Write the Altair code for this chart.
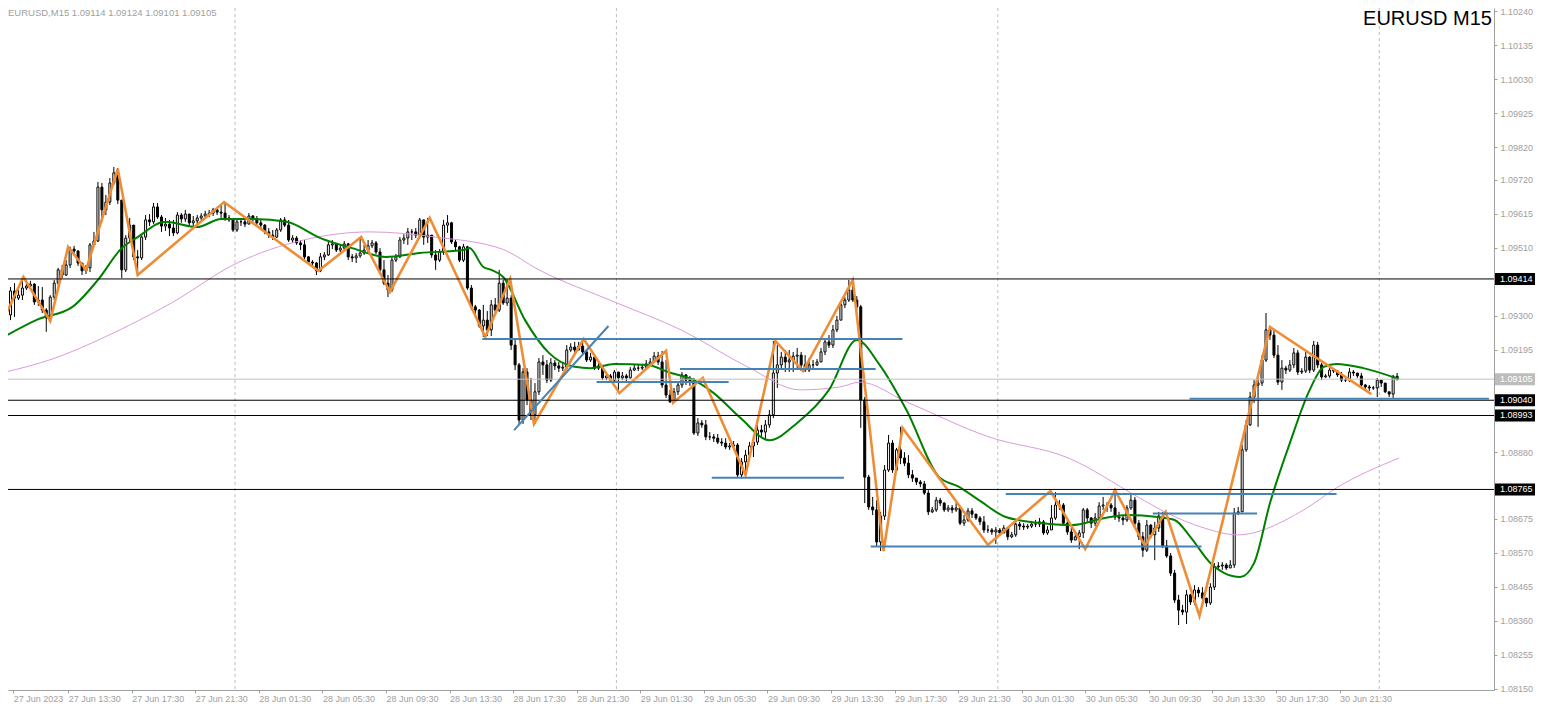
import json
import altair as alt
import pandas as pd

# ---------------- data (prices in 1e-5 units) ----------------
first_open = 109257

closes = [
    109303, 109377, 109355, 109364, 109386, 109392, 109398, 109343, 109349, 109318,
    109294, 109358, 109401, 109442, 109426, 109457, 109506, 109500, 109463, 109439,
    109448, 109519, 109531, 109697, 109627, 109651, 109710, 109741, 109657, 109442,
    109540, 109580, 109482, 109479, 109543, 109596, 109590, 109636, 109605, 109577,
    109583, 109571, 109556, 109611, 109599, 109614, 109587, 109593, 109602, 109608,
    109614, 109617, 109627, 109620, 109617, 109602, 109596, 109565, 109590, 109590,
    109583, 109608, 109599, 109587, 109580, 109559, 109549, 109543, 109565, 109596,
    109580, 109534, 109540, 109525, 109519, 109482, 109466, 109463, 109439, 109482,
    109488, 109519, 109522, 109503, 109509, 109522, 109482, 109479, 109485, 109494,
    109503, 109516, 109525, 109497, 109442, 109401, 109380, 109472, 109482, 109534,
    109540, 109559, 109559, 109549, 109596, 109543, 109549, 109488, 109472, 109497,
    109580, 109587, 109528, 109513, 109472, 109513, 109386, 109328, 109318, 109269,
    109287, 109257, 109334, 109318, 109401, 109340, 109355, 109210, 109149, 108979,
    109127, 109041, 108995, 109066, 109158, 109149, 109102, 109155, 109146, 109139,
    109142, 109195, 109204, 109195, 109207, 109189, 109164, 109173, 109139, 109146,
    109109, 109115, 109102, 109127, 109109, 109115, 109109, 109133, 109139, 109139,
    109142, 109152, 109158, 109176, 109158, 109087, 109056, 109035, 109066, 109087,
    109118, 109102, 109096, 108939, 108970, 108964, 108927, 108927, 108923, 108911,
    108908, 108896, 108899, 108902, 108810, 108850, 108871, 108899, 108911, 108948,
    108942, 108964, 108995, 109124, 109149, 109173, 109158, 109164, 109176, 109179,
    109149, 109133, 109149, 109149, 109158, 109189, 109220, 109210, 109257, 109287,
    109334, 109349, 109380, 109349, 109328, 109041, 108803, 108711, 108702, 108603,
    108683, 108825, 108908, 108825, 108887, 108862, 108846, 108810, 108800, 108788,
    108782, 108754, 108696, 108702, 108732, 108723, 108702, 108708, 108702, 108708,
    108661, 108671, 108699, 108689, 108677, 108665, 108640, 108640, 108634, 108640,
    108631, 108646, 108619, 108625, 108658, 108652, 108649, 108652, 108658, 108658,
    108665, 108631, 108640, 108677, 108717, 108717, 108661, 108634, 108609, 108619,
    108631, 108702, 108677, 108661, 108677, 108714, 108717, 108717, 108708, 108680,
    108677, 108671, 108708, 108732, 108661, 108619, 108578, 108655, 108625, 108646,
    108683, 108591, 108560, 108507, 108424, 108393, 108387, 108440, 108418, 108455,
    108446, 108430, 108415, 108464, 108526, 108529, 108532, 108523, 108532, 108692,
    108696, 108887, 108964, 109050, 109087, 109093, 109164, 109257, 109241, 109179,
    109096, 109139, 109133, 109149, 109186, 109127, 109130, 109173, 109133, 109210,
    109149, 109112, 109115, 109133, 109130, 109118, 109102, 109102, 109127, 109124,
    109115, 109087, 109081, 109078, 109078, 109102, 109093, 109066, 109059, 109114,
    109105,
]

highs = [
    109312, 109389, 109401, 109380, 109420, 109411, 109408, 109401, 109392, 109389,
    109324, 109364, 109411, 109448, 109457, 109472, 109513, 109516, 109503, 109463,
    109457, 109525, 109559, 109713, 109710, 109673, 109725, 109759, 109756, 109657,
    109549, 109602, 109580, 109503, 109549, 109611, 109614, 109648, 109648, 109611,
    109602, 109596, 109596, 109620, 109617, 109627, 109614, 109608, 109611, 109617,
    109624, 109627, 109633, 109630, 109642, 109648, 109611, 109602, 109602, 109599,
    109596, 109617, 109611, 109608, 109596, 109583, 109571, 109565, 109571, 109602,
    109605, 109596, 109549, 109546, 109534, 109534, 109485, 109472, 109466, 109494,
    109497, 109528, 109534, 109525, 109519, 109531, 109525, 109491, 109494, 109543,
    109519, 109534, 109534, 109531, 109509, 109472, 109426, 109482, 109491, 109543,
    109552, 109571, 109568, 109571, 109602, 109596, 109602, 109549, 109503, 109506,
    109596, 109611, 109590, 109534, 109516, 109522, 109516, 109395, 109334, 109321,
    109334, 109315, 109349, 109355, 109442, 109411, 109414, 109364, 109226, 109155,
    109139, 109139, 109109, 109093, 109170, 109179, 109164, 109170, 109164, 109158,
    109155, 109210, 109216, 109220, 109220, 109229, 109195, 109186, 109176, 109155,
    109149, 109127, 109121, 109133, 109127, 109127, 109121, 109142, 109149, 109149,
    109152, 109164, 109170, 109189, 109189, 109192, 109164, 109072, 109078, 109096,
    109127, 109121, 109115, 109109, 108985, 108979, 108979, 108942, 108936, 108936,
    108923, 108923, 108908, 108914, 108908, 108862, 108887, 108911, 108933, 108964,
    108964, 108979, 109010, 109223, 109210, 109189, 109195, 109195, 109189, 109201,
    109189, 109179, 109170, 109164, 109167, 109201, 109232, 109241, 109272, 109300,
    109343, 109358, 109411, 109411, 109361, 109334, 109050, 108810, 108742, 108732,
    108696, 108840, 108933, 108917, 108893, 108958, 108880, 108871, 108825, 108800,
    108794, 108791, 108763, 108711, 108742, 108739, 108726, 108717, 108717, 108723,
    108711, 108686, 108708, 108708, 108689, 108683, 108683, 108655, 108646, 108649,
    108646, 108655, 108649, 108634, 108671, 108665, 108661, 108658, 108668, 108671,
    108677, 108671, 108652, 108717, 108757, 108732, 108723, 108671, 108646, 108631,
    108640, 108708, 108708, 108680, 108692, 108726, 108742, 108726, 108723, 108763,
    108696, 108686, 108717, 108748, 108742, 108671, 108634, 108671, 108658, 108665,
    108696, 108696, 108609, 108569, 108517, 108440, 108409, 108455, 108443, 108470,
    108464, 108464, 108430, 108476, 108538, 108541, 108541, 108538, 108547, 108708,
    108711, 108902, 108979, 109066, 109102, 109109, 109179, 109309, 109266, 109257,
    109210, 109164, 109146, 109164, 109201, 109195, 109139, 109189, 109176, 109223,
    109220, 109155, 109121, 109146, 109139, 109133, 109127, 109112, 109139, 109133,
    109124, 109124, 109090, 109087, 109084, 109109, 109102, 109093, 109066, 109118,
    109124,
]

lows = [
    109248, 109287, 109297, 109349, 109349, 109380, 109383, 109334, 109331, 109309,
    109251, 109281, 109349, 109395, 109417, 109423, 109448, 109491, 109454, 109426,
    109429, 109435, 109516, 109528, 109590, 109611, 109642, 109704, 109645, 109417,
    109435, 109528, 109472, 109426, 109472, 109534, 109577, 109583, 109599, 109559,
    109562, 109546, 109546, 109552, 109587, 109590, 109577, 109577, 109583, 109593,
    109602, 109605, 109608, 109611, 109602, 109593, 109590, 109559, 109559, 109577,
    109574, 109583, 109590, 109580, 109571, 109552, 109540, 109534, 109540, 109559,
    109574, 109528, 109525, 109519, 109503, 109475, 109460, 109454, 109426, 109435,
    109472, 109485, 109506, 109497, 109497, 109503, 109472, 109466, 109463, 109479,
    109488, 109494, 109509, 109491, 109435, 109395, 109358, 109374, 109466, 109479,
    109522, 109519, 109534, 109540, 109546, 109519, 109525, 109479, 109442, 109466,
    109488, 109556, 109522, 109503, 109466, 109466, 109380, 109318, 109306, 109263,
    109235, 109238, 109238, 109303, 109312, 109334, 109331, 109195, 109133, 108964,
    108967, 109025, 108979, 108967, 109056, 109118, 109093, 109096, 109133, 109127,
    109130, 109133, 109189, 109186, 109195, 109179, 109158, 109158, 109133, 109133,
    109102, 109102, 109093, 109099, 109062, 109102, 109099, 109106, 109130, 109130,
    109133, 109139, 109146, 109155, 109149, 109078, 109047, 109032, 109032, 109056,
    109078, 109087, 109084, 108933, 108930, 108955, 108917, 108917, 108911, 108905,
    108899, 108889, 108887, 108889, 108803, 108800, 108800, 108856, 108865, 108902,
    108927, 108917, 108955, 108985, 109078, 109139, 109127, 109127, 109127, 109139,
    109130, 109127, 109127, 109139, 109146, 109158, 109179, 109201, 109201, 109250,
    109287, 109324, 109343, 109343, 109318, 108955, 108723, 108702, 108686, 108588,
    108575, 108671, 108819, 108816, 108819, 108843, 108837, 108800, 108788, 108779,
    108772, 108748, 108686, 108692, 108696, 108714, 108696, 108696, 108692, 108696,
    108655, 108652, 108665, 108677, 108671, 108655, 108631, 108631, 108625, 108597,
    108622, 108631, 108609, 108615, 108619, 108640, 108640, 108643, 108646, 108649,
    108649, 108625, 108625, 108640, 108671, 108702, 108655, 108625, 108600, 108609,
    108581, 108615, 108665, 108646, 108652, 108671, 108702, 108696, 108696, 108671,
    108665, 108655, 108665, 108702, 108652, 108609, 108557, 108572, 108615, 108547,
    108634, 108584, 108554, 108498, 108415, 108347, 108378, 108350, 108409, 108409,
    108433, 108424, 108403, 108409, 108455, 108517, 108517, 108517, 108523, 108523,
    108686, 108696, 108881, 108961, 109032, 108958, 109084, 109158, 109226, 109170,
    109087, 109072, 109121, 109127, 109139, 109118, 109121, 109124, 109124, 109127,
    109139, 109102, 109109, 109109, 109124, 109112, 109096, 109096, 109096, 109115,
    109109, 109081, 109075, 109069, 109072, 109050, 109081, 109062, 109050, 109047,
    109101,
]

# ZigZag indicator vertices
zz_bar = [-0.25, 4.25, 11, 15.5, 20, 28, 33, 54.75, 78.5, 89.25, 96.5, 106.5, 120.5,
          126.75, 132.75, 145.25, 154.25, 166, 167.75, 175.25, 186, 193.5, 200.5, 213,
          220.75, 225.5, 247, 262.75, 271.5, 279, 286.5, 291.75, 300.25, 318, 343.5]
zz_price = [109303, 109420, 109284, 109513, 109442, 109753, 109426, 109651, 109439, 109543,
            109374, 109602, 109235, 109414, 108967, 109229, 109062, 109192, 109032, 109109,
            108810, 109223, 109130, 109411, 108575, 108955, 108594, 108760, 108581, 108763,
            108591, 108696, 108375, 109266, 109059]

# fast moving average (green)
ma_fast_bar = [-0.25, 8, 16.5, 23, 29, 33, 40, 48, 54, 62, 70.5, 79, 87, 95.5, 104, 115,
               116.5, 120, 122, 125, 130.5, 136.5, 143, 147, 153, 161.5, 166.5, 173, 178,
               184.75, 192, 199, 207, 214, 219.75, 226.5, 234.75, 239.75, 244.75, 251.5,
               259.75, 268, 276.5, 282, 289.75, 294, 298, 303, 306.5, 310.5, 314, 318,
               323, 328, 331.5, 334.75, 341.5, 350.5]
ma_fast_price = [109238, 109290, 109327, 109411, 109509, 109543, 109590, 109574, 109599,
                 109599, 109590, 109540, 109509, 109482, 109494, 109503, 109509, 109451,
                 109442, 109420, 109287, 109186, 109143, 109139, 109152, 109149, 109127,
                 109102, 109062, 108985, 108917, 108970, 109072, 109226, 109149, 109010,
                 108803, 108773, 108732, 108680, 108662, 108655, 108677, 108686, 108680,
                 108671, 108618, 108538, 108507, 108495, 108538, 108723, 108908, 109072,
                 109143, 109152, 109139, 109105]

# slow moving average (violet)
ma_slow_bar = [-0.25, 11.5, 24.75, 41.5, 58, 74.75, 91.5, 108, 124.75, 134, 153, 169.75,
               186.5, 199.75, 209.75, 214.75, 226.5, 247.25, 267.25, 284.75, 291.5, 301.5,
               309.75, 326.5, 334.75, 350.5]
ma_slow_price = [109127, 109167, 109235, 109340, 109463, 109534, 109559, 109543, 109506,
                 109442, 109343, 109257, 109143, 109072, 109081, 109096, 109035, 108927,
                 108862, 108742, 108696, 108646, 108625, 108702, 108770, 108862]

# blue drawn lines: start bar, end bar, start price, end price
seg_x1 = [119.75, 169.5, 148.5, 177.5, 127.75, 217.5, 251.5, 288.5, 297.75]
seg_x2 = [225.5, 218.75, 181.75, 210.75, 151.5, 300.75, 334.75, 314.75, 373.1]
seg_p1 = [109229, 109136, 109096, 108801, 108948, 108589, 108751, 108691, 109045]
seg_p2 = [109229, 109136, 109096, 108801, 109269, 108589, 108751, 108691, 109045]

# horizontal price levels
level_prices = [109414, 109040, 108993, 108765]
bid_price = 109105

# day separators (bar positions)
separator_bars = [57.5, 153.5, 249.5, 345.5]

# axis ticks (those hidden under the level boxes are left out)
price_ticks = [1.10240, 1.10135, 1.10030, 1.09925, 1.09820, 1.09720, 1.09615, 1.09510,
               1.09300, 1.09195, 1.08880, 1.08675, 1.08570, 1.08465, 1.08360, 1.08255,
               1.08150]
time_tick_bars = [1.7, 15.5, 31.5, 47.5, 63.5, 79.5, 95.5, 111.5, 127.5, 143.5, 159.5,
                  175.5, 191.5, 207.5, 223.5, 239.5, 255.5, 271.5, 287.5, 303.5, 319.5,
                  335.5]
time_labels = ["27 Jun 2023", "27 Jun 13:30", "27 Jun 17:30", "27 Jun 21:30",
               "28 Jun 01:30", "28 Jun 05:30", "28 Jun 09:30", "28 Jun 13:30",
               "28 Jun 17:30", "28 Jun 21:30", "29 Jun 01:30", "29 Jun 05:30",
               "29 Jun 09:30", "29 Jun 13:30", "29 Jun 17:30", "29 Jun 21:30",
               "30 Jun 01:30", "30 Jun 05:30", "30 Jun 09:30", "30 Jun 13:30",
               "30 Jun 17:30", "30 Jun 21:30"]

header_text = "EURUSD,M15  1.09114 1.09124 1.09101 1.09105"
title_text = "EURUSD M15"

# ---------------- layout ----------------
W, H = 1486, 682
X_DOMAIN = [1.625, 373.125]
Y_DOMAIN = [1.081467, 1.102493]
GREY = "#A0A0A0"
FONT = "Liberation Sans"

xs = alt.Scale(domain=X_DOMAIN, nice=False, zero=False)
ys = alt.Scale(domain=Y_DOMAIN, nice=False, zero=False)

label_expr = "%s[indexof(%s, datum.value)]" % (json.dumps(time_labels), json.dumps(time_tick_bars))

x_axis = alt.Axis(values=time_tick_bars, labelExpr=label_expr, tickSize=3, labelPadding=1,
                  labelAlign="left", labelBaseline="top", labelFont=FONT, labelFontSize=9,
                  labelColor=GREY, tickColor=GREY, domainColor=GREY, grid=False,
                  labelOverlap=False, labelFlush=False, title=None)
y_axis = alt.Axis(orient="right", values=price_ticks, format=".5f", tickSize=3,
                  labelPadding=3, labelAlign="left", labelBaseline="middle", labelFont=FONT,
                  labelFontSize=9, labelColor=GREY, tickColor=GREY, domainColor=GREY,
                  grid=False, labelOverlap=False, labelFlush=False, title=None)


def X(f):
    return alt.X(f, type="quantitative", scale=xs, title=None, axis=x_axis)


def Y(f):
    return alt.Y(f, type="quantitative", scale=ys, title=None, axis=y_axis)


opens = [first_open] + closes[:-1]
candles = pd.DataFrame({
    "bar": list(range(len(closes))),
    "open": [v / 1e5 for v in opens],
    "close": [v / 1e5 for v in closes],
    "high": [v / 1e5 for v in highs],
    "low": [v / 1e5 for v in lows],
    "dir": ["up" if c >= o else "down" for o, c in zip(opens, closes)],
})

sep_df = pd.DataFrame({"bar": separator_bars})
separators = alt.Chart(sep_df).mark_rule(color="#BDBDBD", strokeWidth=1, strokeDash=[3, 3]).encode(
    x=X("bar"), y=alt.value(0), y2=alt.value(H))

wicks = alt.Chart(candles).mark_rule(color="black", strokeWidth=1).encode(
    x=X("bar"), y=Y("low"), y2="high:Q")

bodies = alt.Chart(candles).mark_bar(size=2, stroke="black", strokeWidth=1).encode(
    x=X("bar"), y=Y("open"), y2="close:Q",
    fill=alt.Fill("dir:N", scale=alt.Scale(domain=["up", "down"], range=["white", "black"]), legend=None))

slow_df = pd.DataFrame({"bar": ma_slow_bar, "p": [v / 1e5 for v in ma_slow_price]})
slow = alt.Chart(slow_df).mark_line(color="#DA9BDA", strokeWidth=1, interpolate="monotone").encode(
    x=X("bar"), y=Y("p"))

fast_df = pd.DataFrame({"bar": ma_fast_bar, "p": [v / 1e5 for v in ma_fast_price]})
fast = alt.Chart(fast_df).mark_line(color="#008000", strokeWidth=2, interpolate="monotone").encode(
    x=X("bar"), y=Y("p"))

zz_df = pd.DataFrame({"bar": zz_bar, "p": [v / 1e5 for v in zz_price]})
zigzag = alt.Chart(zz_df).mark_line(color="#EF8D36", strokeWidth=2.6, strokeJoin="miter").encode(
    x=X("bar"), y=Y("p"))

bid_df = pd.DataFrame({"p": [bid_price / 1e5]})
bid = alt.Chart(bid_df).mark_rule(color="#C0C0C0", strokeWidth=1).encode(
    y=Y("p"), x=alt.value(0), x2=alt.value(W))

lvl_df = pd.DataFrame({"p": [v / 1e5 for v in level_prices]})
levels = alt.Chart(lvl_df).mark_rule(color="black", strokeWidth=1).encode(
    y=Y("p"), x=alt.value(0), x2=alt.value(W))

seg_df = pd.DataFrame({"x1": seg_x1, "x2": seg_x2,
                       "p1": [v / 1e5 for v in seg_p1], "p2": [v / 1e5 for v in seg_p2]})
segments = alt.Chart(seg_df).mark_rule(color="#4682B4", strokeWidth=2).encode(
    x=X("x1"), x2="x2:Q", y=Y("p1"), y2="p2:Q")

box_prices = level_prices + [bid_price]
box_df = pd.DataFrame({
    "p": [v / 1e5 for v in box_prices],
    "txt": ["%.5f" % (v / 1e5) for v in box_prices],
    "bg": ["black"] * len(level_prices) + ["#BDBDBD"],
})
boxes = alt.Chart(box_df).mark_tick(orient="horizontal", size=40, thickness=12, opacity=1).encode(
    y=Y("p"), x=alt.value(W + 21), color=alt.Color("bg:N", scale=None))
box_text = alt.Chart(box_df).mark_text(align="left", baseline="middle", font=FONT, fontSize=9,
                                       color="white").encode(
    y=Y("p"), x=alt.value(W + 6), text="txt:N")

header = alt.Chart(pd.DataFrame({"t": [header_text]})).mark_text(
    align="left", baseline="top", font=FONT, fontSize=9.5, color=GREY).encode(
    x=alt.value(0), y=alt.value(0), text="t:N")
title = alt.Chart(pd.DataFrame({"t": [title_text]})).mark_text(
    align="right", baseline="top", font=FONT, fontSize=20, color="black").encode(
    x=alt.value(W - 2), y=alt.value(1), text="t:N")

chart = alt.layer(
    separators, wicks, bodies, slow, fast, zigzag, bid, levels, segments,
    boxes, box_text, header, title,
).properties(
    width=W, height=H,
    autosize=alt.AutoSizeParams(type="none"),
    padding={"left": 0, "top": 0, "right": 41, "bottom": 13},
    background="white",
).configure_view(stroke=None).configure_axis(labelOverlap=False)

chart.save("out.html", embed_options={"renderer": "svg", "actions": False})
